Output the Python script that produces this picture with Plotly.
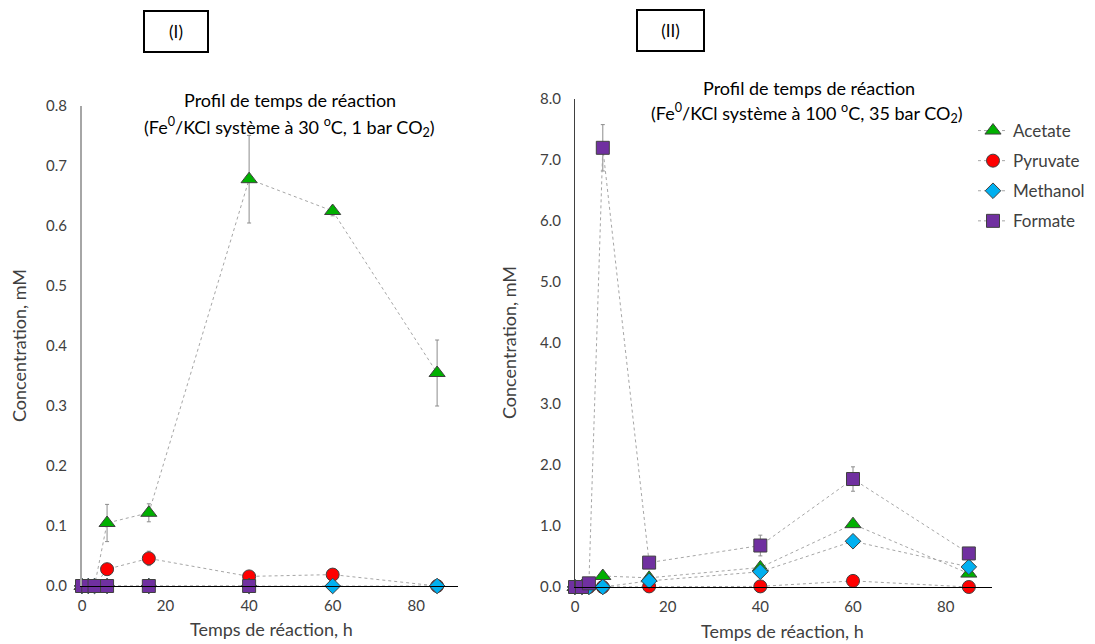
import plotly.graph_objects as go

# ---------------- data ----------------
times = [0, 1.5, 3, 6, 16, 40, 60, 85]

# Panel (I): 30 °C, 1 bar CO2
acetate_I = [0, 0, 0, 0.105, 0.122, 0.678, 0.625, 0.355]
acetate_I_err = [0, 0, 0, 0.031, 0.015, 0.073, 0.008, 0.055]
pyruvate_I = [0, 0, 0, 0.028, 0.046, 0.016, 0.019, 0.0]
pyruvate_I_err = [0, 0, 0, 0.004, 0.012, 0.003, 0.003, 0]
methanol_I = [0, 0, 0, 0, 0, 0, 0, 0]
methanol_I_err = [0, 0, 0, 0, 0, 0, 0, 0]
formate_I = [0, 0, 0, 0, 0, 0, None, None]
formate_I_err = [0, 0, 0, 0, 0, 0, 0, 0]

# Panel (II): 100 °C, 35 bar CO2
acetate_II = [0, 0, 0.03, 0.18, 0.15, 0.32, 1.03, 0.22]
acetate_II_err = [0, 0, 0, 0.02, 0.02, 0.05, 0.05, 0.02]
pyruvate_II = [0, 0, 0, 0, 0.01, 0.01, 0.1, 0]
pyruvate_II_err = [0, 0, 0, 0, 0, 0, 0, 0]
methanol_II = [0, 0, 0, 0, 0.1, 0.25, 0.75, 0.33]
methanol_II_err = [0, 0, 0, 0, 0, 0, 0, 0]
formate_II = [0, 0, 0.06, 7.2, 0.4, 0.68, 1.77, 0.55]
formate_II_err = [0, 0, 0, 0.38, 0, 0.17, 0.2, 0]

series_names = ["Acetate", "Pyruvate", "Methanol", "Formate"]
x_ticks = [0, 20, 40, 60, 80]
y_ticks_I = [0, 0.1, 0.2, 0.3, 0.4, 0.5, 0.6, 0.7, 0.8]
y_ticks_II = [0, 1, 2, 3, 4, 5, 6, 7, 8]

title_I_l1 = "Profil de temps de réaction"
title_I_l2 = "(Fe<sup>0</sup>/KCl système à 30 <sup>o</sup>C, 1 bar CO<sub>2</sub>)"
title_II_l1 = "Profil de temps de réaction"
title_II_l2 = "(Fe<sup>0</sup>/KCl système à 100 <sup>o</sup>C, 35 bar CO<sub>2</sub>)"
x_title = "Temps de réaction, h"
y_title = "Concentration, mM"

# ---------------- styles ----------------
FONT = "Lato, 'Open Sans', sans-serif"
W, H = 1095, 644
styles = {
    "Acetate": dict(symbol="triangle-up", color="#00B000", size=14),
    "Pyruvate": dict(symbol="circle", color="#FF0000", size=13),
    "Methanol": dict(symbol="diamond", color="#00B0F0", size=12),
    "Formate": dict(symbol="square", color="#7030A0", size=13),
}

fig = go.Figure()

panel_I = [acetate_I, pyruvate_I, methanol_I, formate_I]
panel_I_err = [acetate_I_err, pyruvate_I_err, methanol_I_err, formate_I_err]
panel_II = [acetate_II, pyruvate_II, methanol_II, formate_II]
panel_II_err = [acetate_II_err, pyruvate_II_err, methanol_II_err, formate_II_err]

for panel, errs, xa, ya, show in [
    (panel_I, panel_I_err, "x", "y", False),
    (panel_II, panel_II_err, "x2", "y2", True),
]:
    for name, vals, err in zip(series_names, panel, errs):
        st = styles[name]
        fig.add_trace(go.Scatter(
            x=times, y=vals, name=name, mode="lines+markers",
            xaxis=xa, yaxis=ya, showlegend=show, legendgroup=name,
            connectgaps=False, cliponaxis=False,
            line=dict(color="#A6A6A6", width=1, dash="dot"),
            marker=dict(symbol=st["symbol"], color=st["color"], size=st["size"],
                        line=dict(color="#404040", width=1)),
            error_y=dict(type="data", array=err, visible=True,
                         color="#8C8C8C", thickness=1, width=2),
        ))

axis_font = dict(family=FONT, size=15, color="#404040")
title_font = dict(family=FONT, size=18, color="#404040")
head_font = dict(family=FONT, size=18, color="#000000")


def px(xp, yp):
    return xp / W, 1 - yp / H


annotations = []
for text, (xp, yp) in [
    (title_I_l1, (290, 100)), (title_I_l2, (289, 127)),
    (title_II_l1, (809, 88)), (title_II_l2, (807, 113)),
]:
    x, y = px(xp, yp)
    annotations.append(dict(text=text, x=x, y=y, xref="paper", yref="paper",
                            xanchor="center", yanchor="middle", showarrow=False,
                            font=head_font))
for text, (xp, yp), ang in [
    (x_title, (271, 629), 0), (x_title, (782, 631), 0),
    (y_title, (19, 346), -90), (y_title, (509, 343), -90),
]:
    x, y = px(xp, yp)
    annotations.append(dict(text=text, x=x, y=y, xref="paper", yref="paper",
                            xanchor="center", yanchor="middle", showarrow=False,
                            textangle=ang, font=title_font))
for text, (xp, yp), wd in [("(I)", (176, 32), 60), ("(II)", (670, 30), 63)]:
    x, y = px(xp, yp)
    annotations.append(dict(text=text, x=x, y=y, xref="paper", yref="paper",
                            xanchor="center", yanchor="middle", showarrow=False,
                            width=wd, height=37, bordercolor="#000000", borderwidth=2,
                            font=dict(family=FONT, size=17, color="#000000")))

fig.update_layout(
    width=W, height=H,
    margin=dict(l=0, r=0, t=0, b=0),
    paper_bgcolor="white", plot_bgcolor="white",
    font=dict(family=FONT, color="#404040"),
    xaxis=dict(domain=[82/W, 458/W], range=[0, 90], tickvals=x_ticks,
               showgrid=False, zeroline=False, showline=True, linecolor="#000000",
               linewidth=1, ticks="", tickfont=axis_font, ticklabelstandoff=6,
               automargin=False, anchor="y"),
    yaxis=dict(domain=[1-586/H, 1-106/H], range=[0, 0.8], tickvals=y_ticks_I,
               tickformat=".1f", showgrid=False, zeroline=False, showline=True,
               linecolor="#A6A6A6", linewidth=2, ticks="", tickfont=axis_font,
               ticklabelstandoff=10, automargin=False, anchor="x"),
    xaxis2=dict(domain=[575/W, 992/W], range=[0, 90], tickvals=x_ticks,
                showgrid=False, zeroline=False, showline=True, linecolor="#000000",
                linewidth=1, ticks="", tickfont=axis_font, ticklabelstandoff=6,
                automargin=False, anchor="y2"),
    yaxis2=dict(domain=[1-587/H, 1-99/H], range=[0, 8], tickvals=y_ticks_II,
                tickformat=".1f", showgrid=False, zeroline=False, showline=True,
                linecolor="#404040", linewidth=1, ticks="", tickfont=axis_font,
                ticklabelstandoff=10, automargin=False, anchor="x2"),
    legend=dict(x=973/W, y=1-113/H, xanchor="left", yanchor="top",
                font=dict(family=FONT, size=17, color="#404040"),
                bgcolor="rgba(0,0,0,0)", tracegroupgap=5, traceorder="grouped",
                itemwidth=30),
    annotations=annotations,
)

fig.write_html("out.html", config={"displayModeBar": False},
               post_script="document.body.style.margin='0';document.body.style.padding='0';")
